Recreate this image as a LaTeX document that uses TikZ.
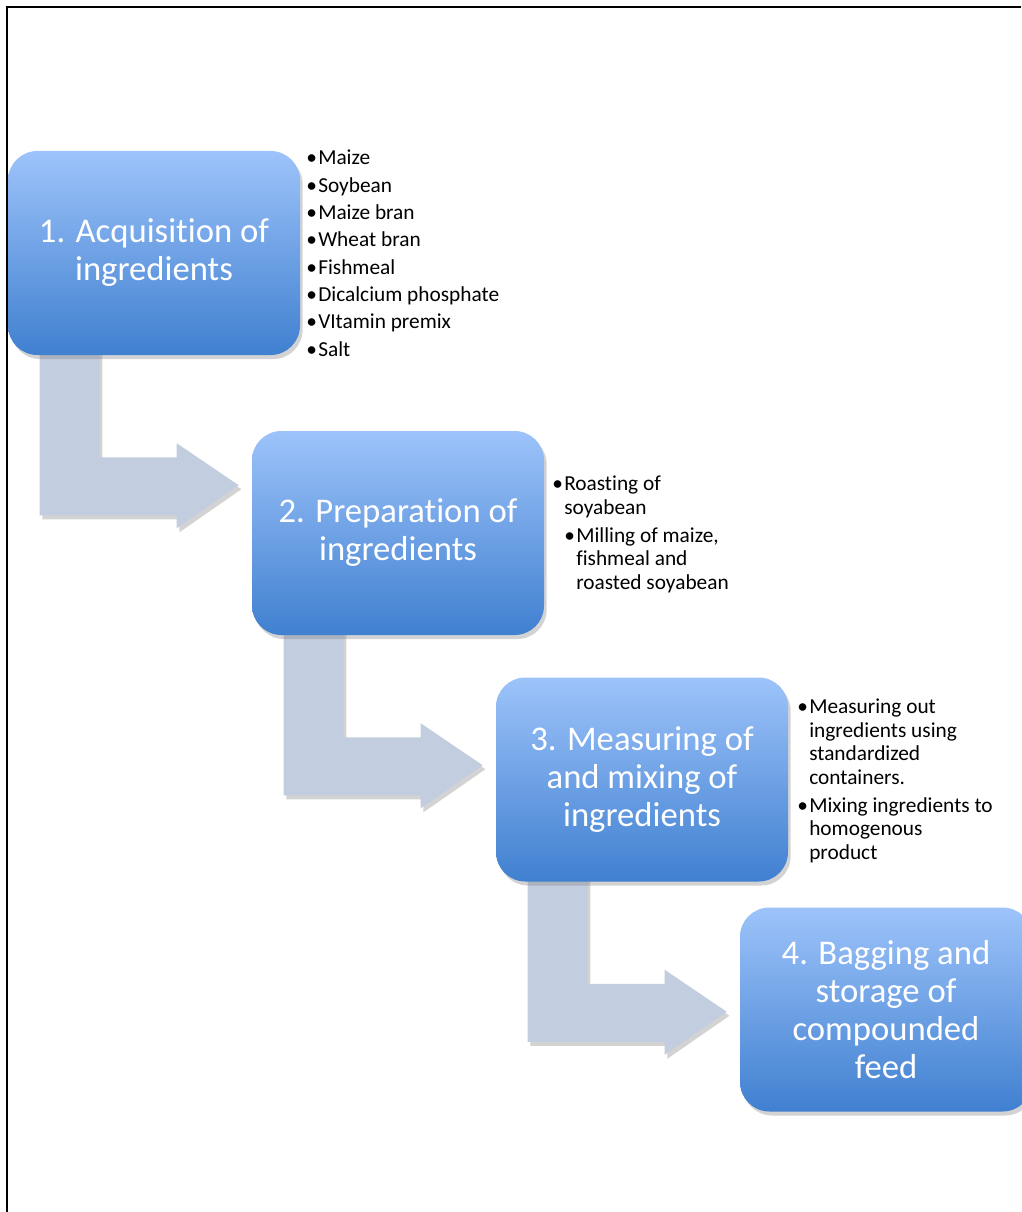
\documentclass[tikz,border=0pt]{standalone}
\usepackage{fontspec}
\setmainfont{Carlito}[Ligatures=NoCommon]
\usetikzlibrary{calc,shadows,backgrounds}

\definecolor{boxtop}{RGB}{157,195,250}
\definecolor{boxbot}{RGB}{64,128,208}
\definecolor{arrowgray}{RGB}{195,205,224}

\newcommand\bul{\makebox[9pt][l]{\textbullet}}
% bent arrow from the bottom of one box to the left of the next
\newcommand\bentarrow[2]{%
  \fill[bentfill] let \p1=(#1.south west), \p2=(#2.west) in
    (\x1+24pt,\y1+6pt) -- (\x1+24pt,\y1-120pt) -- (\x2-56.25pt,\y1-120pt)
    -- (\x2-56.25pt,\y1-129.75pt) -- (\x2-9.75pt,\y1-97.5pt)
    -- (\x2-56.25pt,\y1-66pt) -- (\x2-56.25pt,\y1-76.5pt)
    -- (\x1+69pt,\y1-76.5pt) -- (\x1+69pt,\y1+6pt) -- cycle;}

\tikzset{
  stepbox/.style={rectangle, rounded corners=22pt, minimum width=219pt,
    minimum height=153pt, inner sep=0pt, top color=boxtop, bottom color=boxbot,
    text=white, align=center, font=\fontsize{26}{28.5}\selectfont,
    drop shadow={opacity=.35, shadow xshift=2pt, shadow yshift=-3pt}},
  notes/.style={anchor=base west, align=left, inner sep=0pt,
    font=\fontsize{16}{17.6}\selectfont},
  bentfill/.style={fill=arrowgray,
    drop shadow={opacity=.35, shadow xshift=2pt, shadow yshift=-3pt}}
}

\begin{document}
\begin{tikzpicture}[x=0.75pt,y=-0.75pt]
  \useasboundingbox (0,0) rectangle (1021,1212);
  \draw[line width=1.5pt] (7,1212) |- (1021,7);

  \node[stepbox] (step1) at (154,253) {1. Acquisition of\\ingredients};
  \node[stepbox] (step2) at (398,533) {2. Preparation of\\ingredients};
  \node[stepbox] (step3) at (642,779.5) {3. Measuring of\\and mixing of\\ingredients};
  \node[stepbox] (step4) at (886,1009.5) {4. Bagging and\\storage of\\compounded\\feed};

  % lists are placed by the baseline of their last line
  \node[notes, font=\fontsize{16}{20.5}\selectfont] (notes1) at (306,356)
    {\bul Maize\\ \bul Soybean\\ \bul Maize bran\\ \bul Wheat bran\\
     \bul Fishmeal\\ \bul Dicalcium phosphate\\ \bul VItamin premix\\ \bul Salt};
  \node[notes] (notes2) at (552,589)
    {\bul Roasting of\\ \hspace*{9pt}soyabean\\[3.4pt]
     \hspace*{9pt}\bul Milling of maize,\\ \hspace*{18pt}fishmeal and\\
     \hspace*{18pt}roasted soyabean};
  \node[notes] (notes3) at (797,859)
    {\bul Measuring out\\ \hspace*{9pt}ingredients using\\ \hspace*{9pt}standardized\\
     \hspace*{9pt}containers.\\[3.4pt] \bul Mixing ingredients to\\
     \hspace*{9pt}homogenous\\ \hspace*{9pt}product};

  \begin{scope}[on background layer]
    \bentarrow{step1}{step2}
    \bentarrow{step2}{step3}
    \bentarrow{step3}{step4}
  \end{scope}
\end{tikzpicture}
\end{document}
